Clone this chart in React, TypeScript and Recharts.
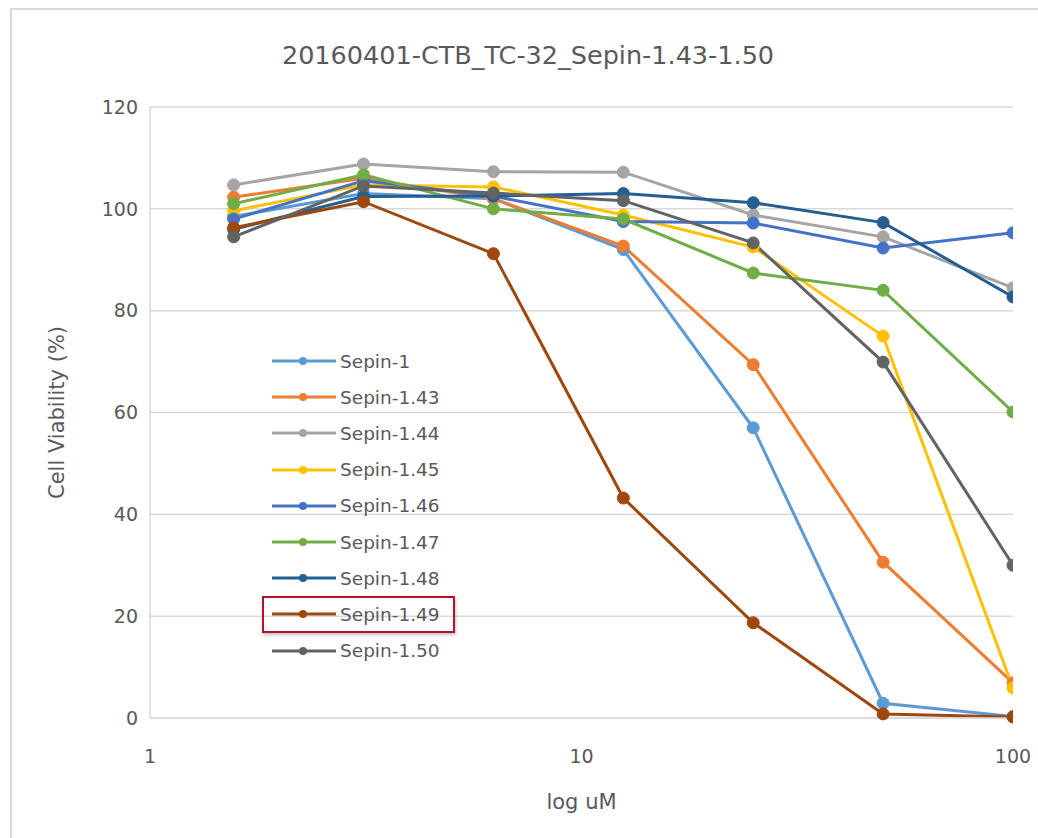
import React from "react";
import {
  LineChart,
  Line,
  XAxis,
  YAxis,
  CartesianGrid,
  Legend,
  Label,
} from "recharts";

// concentrations (uM) used on the log x axis
const concentrations = [1.5625, 3.125, 6.25, 12.5, 25, 50, 100];

const sepin1 = [98.5, 103, 102, 92, 57, 2.9, 0.3];
const sepin143 = [102.3, 106, 102, 92.7, 69.4, 30.6, 6.9];
const sepin144 = [104.7, 108.8, 107.3, 107.2, 98.8, 94.5, 84.5];
const sepin145 = [99.6, 104.7, 104.3, 98.8, 92.5, 75, 5.9];
const sepin146 = [98, 105.5, 102.5, 97.5, 97.2, 92.3, 95.3];
const sepin147 = [101, 106.7, 100, 98, 87.4, 84, 60.1];
const sepin148 = [96, 102.4, 102.5, 103, 101.2, 97.3, 82.7];
const sepin149 = [96.3, 101.4, 91.2, 43.2, 18.7, 0.8, 0.2];
const sepin150 = [94.5, 104.5, 103.1, 101.6, 93.3, 69.9, 30];

const xTicks = [1, 10, 100];
const yTicks = [0, 20, 40, 60, 80, 100, 120];

const series = [
  { name: "Sepin-1", values: sepin1, color: "#5B9BD5" },
  { name: "Sepin-1.43", values: sepin143, color: "#ED7D31" },
  { name: "Sepin-1.44", values: sepin144, color: "#A5A5A5" },
  { name: "Sepin-1.45", values: sepin145, color: "#FFC000" },
  { name: "Sepin-1.46", values: sepin146, color: "#4472C4" },
  { name: "Sepin-1.47", values: sepin147, color: "#70AD47" },
  { name: "Sepin-1.48", values: sepin148, color: "#255E91" },
  { name: "Sepin-1.49", values: sepin149, color: "#9E480E" },
  { name: "Sepin-1.50", values: sepin150, color: "#636363" },
];

const highlighted = "Sepin-1.49";
const FONT = "'DejaVu Sans', sans-serif";
const TEXT = "#595959";

const data = concentrations.map((c, i) => {
  const row: Record<string, number> = { conc: c };
  series.forEach((s) => {
    row[s.name] = s.values[i];
  });
  return row;
});

function ExcelLegend() {
  return (
    <div style={{ fontFamily: FONT, fontSize: 18.5, color: TEXT }}>
      {series.map((s) => (
        <div
          key={s.name}
          style={{
            height: 36.2,
            display: "flex",
            alignItems: "center",
            paddingLeft: 8,
            width: 193,
            boxSizing: "border-box",
            border: s.name === highlighted ? "2px solid #B3122E" : "2px solid transparent",
            boxShadow: s.name === highlighted ? "1px 2px 3px rgba(0,0,0,0.25)" : "none",
          }}
        >
          <svg width={64} height={12} style={{ marginRight: 4 }}>
            <line x1={0} y1={6} x2={64} y2={6} stroke={s.color} strokeWidth={3} />
            <circle cx={31} cy={6} r={4} fill={s.color} />
          </svg>
          <span>{s.name}</span>
        </div>
      ))}
    </div>
  );
}

export default function App() {
  return (
    <div
      style={{
        position: "absolute",
        left: 0,
        top: 0,
        width: 1038,
        height: 838,
        background: "#fff",
      }}
    >
      <div
        style={{
          position: "absolute",
          left: 10,
          top: 8,
          width: 1040,
          height: 840,
          borderLeft: "2px solid #d9d9d9",
          borderTop: "2px solid #d9d9d9",
        }}
      />
      <div
        style={{
          position: "absolute",
          left: 0,
          top: 40,
          width: 1056,
          textAlign: "center",
          fontFamily: FONT,
          fontSize: 25.5,
          color: TEXT,
          lineHeight: "30px",
        }}
      >
        20160401-CTB_TC-32_Sepin-1.43-1.50
      </div>
      <LineChart
        width={1038}
        height={838}
        data={data}
        margin={{ top: 107, right: 25, left: 90, bottom: 80 }}
        style={{ position: "absolute", left: 0, top: 0 }}
      >
        <CartesianGrid vertical={false} stroke="#d9d9d9" strokeWidth={1.5} />
        <XAxis
          dataKey="conc"
          type="number"
          scale="log"
          domain={[1, 100]}
          ticks={xTicks}
          allowDataOverflow
          height={40}
          axisLine={{ stroke: "#d9d9d9", strokeWidth: 1.5 }}
          tickLine={false}
          tickMargin={26}
          tick={{ fill: TEXT, fontSize: 19, fontFamily: FONT }}
        >
          <Label
            value="log uM"
            position="insideBottom"
            offset={-51}
            style={{ fill: TEXT, fontSize: 21, fontFamily: FONT }}
          />
        </XAxis>
        <YAxis
          type="number"
          domain={[0, 120]}
          ticks={yTicks}
          width={60}
          axisLine={{ stroke: "#d9d9d9", strokeWidth: 1.5 }}
          tickLine={false}
          tickMargin={6}
          tick={{ fill: TEXT, fontSize: 19, fontFamily: FONT }}
        >
          <Label
            value="Cell Viability (%)"
            angle={-90}
            position="center"
            dx={-63}
            style={{ fill: TEXT, fontSize: 21, fontFamily: FONT, textAnchor: "middle" }}
          />
        </YAxis>
        <Legend
          content={<ExcelLegend />}
          layout="vertical"
          verticalAlign="middle"
          align="center"
          wrapperStyle={{ left: 262, top: 343, width: 200 }}
        />
        {series.map((s) => (
          <Line
            key={s.name}
            type="linear"
            dataKey={s.name}
            stroke={s.color}
            strokeWidth={3}
            dot={{ r: 6, fill: s.color, stroke: s.color, strokeWidth: 1 }}
            activeDot={false}
            isAnimationActive={false}
          />
        ))}
      </LineChart>
    </div>
  );
}
